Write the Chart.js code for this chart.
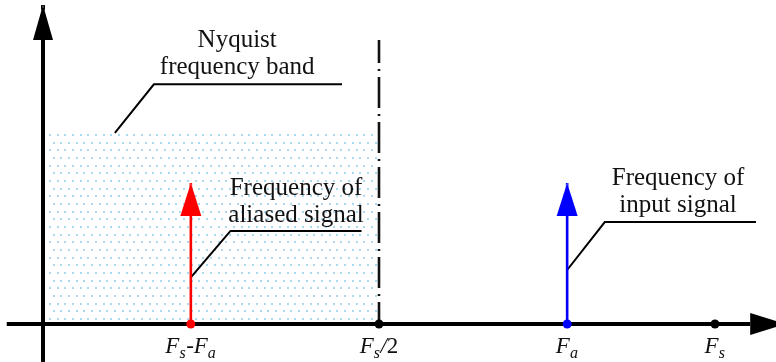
<!DOCTYPE html>
<html>
<head>
<meta charset="utf-8">
<script src="https://cdn.jsdelivr.net/npm/chart.js@4/dist/chart.umd.min.js"></script>
<style>
  html, body { margin: 0; padding: 0; background: #ffffff; }
  #wrap { width: 776px; height: 362px; }
</style>
</head>
<body>
<div id="wrap"><canvas id="spectrum" width="776" height="362"></canvas></div>
<script>
// Frequencies are normalised to the sampling rate Fs = 1.
const markerFreqs = [0.22, 0.5, 0.78, 1.0];
const tickLabels = ['F_s-F_a', 'F_s/2', 'F_a', 'F_s'];
const markerColors = ['#ff0000', '#000000', '#0000ff', '#000000'];

const aliasedFreq = 0.22;
const inputFreq = 0.78;
const nyquistFreq = 0.5;
const toneAmplitude = 1.0;
const bandHeight = 1.36;
const nyquistLineTop = 2.014;

// Axis extents (value units)
const xAxisSpan = [-0.054, 1.106];
const yAxisSpan = [-0.27, 2.262];

// Callout leader lines: [frequency, amplitude] vertices
const nyquistLeader = [[0.107, 1.355], [0.165, 1.70], [0.445, 1.70]];
const aliasedLeader = [[0.22, 0.33], [0.279, 0.66], [0.474, 0.66]];
const inputLeader = [[0.78, 0.383], [0.836, 0.723], [1.061, 0.723]];

// Callout texts
const nyquistText = ['Nyquist', 'frequency band'];
const aliasedText = ['Frequency of', 'aliased signal'];
const inputText = ['Frequency of', 'input signal'];

const toXY = pts => pts.map(p => ({ x: p[0], y: p[1] }));

const SERIF = "'Liberation Serif', 'DejaVu Serif', serif";

// Dotted fill used for the Nyquist band
function dotPattern() {
  const c = document.createElement('canvas');
  c.width = 46; c.height = 46;
  const g = c.getContext('2d');
  g.fillStyle = '#aad9f2';
  for (let r = 0; r < 6; r++) {
    for (let k = 0; k < 6; k++) {
      const y = Math.round(r * 7.667);
      const x = Math.round(k * 7.667 + (r % 2 ? 3.83 : 0));
      g.fillRect(x % 46, y, 2, 2);
    }
  }
  const ctx = document.getElementById('spectrum').getContext('2d');
  const p = ctx.createPattern(c, 'repeat');
  if (p.setTransform) p.setTransform(new DOMMatrix().translate(49, 134 % 46));
  return p;
}

// Arrowheads at the last vertex of datasets carrying an `arrowHead` option
function arrowGeom(meta, head) {
  const pts = meta.data;
  const a = pts[pts.length - 2], b = pts[pts.length - 1];
  const dx = b.x - a.x, dy = b.y - a.y;
  const len = Math.hypot(dx, dy) || 1;
  const ux = dx / len, uy = dy / len;
  const bx = b.x - ux * head.len, by = b.y - uy * head.len;
  const px = -uy * head.width / 2, py = ux * head.width / 2;
  return [[b.x, b.y], [bx + px, by + py], [bx - px, by - py]];
}
const arrowPlugin = {
  id: 'arrowHeads',
  beforeDatasetDraw(chart, args) {
    const ds = chart.data.datasets[args.index];
    if (!ds.arrowHead) return;
    const ctx = chart.ctx;
    const tri = arrowGeom(args.meta, ds.arrowHead);
    ctx.save();
    ctx.beginPath();
    ctx.rect(0, 0, chart.width, chart.height);
    ctx.moveTo(tri[0][0], tri[0][1]);
    ctx.lineTo(tri[1][0], tri[1][1]);
    ctx.lineTo(tri[2][0], tri[2][1]);
    ctx.closePath();
    ctx.clip('evenodd');
  },
  afterDatasetDraw(chart, args) {
    const ds = chart.data.datasets[args.index];
    if (!ds.arrowHead) return;
    const ctx = chart.ctx;
    ctx.restore();
    const tri = arrowGeom(args.meta, ds.arrowHead);
    ctx.save();
    ctx.fillStyle = ds.borderColor;
    ctx.beginPath();
    ctx.moveTo(tri[0][0], tri[0][1]);
    ctx.lineTo(tri[1][0], tri[1][1]);
    ctx.lineTo(tri[2][0], tri[2][1]);
    ctx.closePath();
    ctx.fill();
    ctx.restore();
  }
};

// Callout texts and frequency labels with subscripts
const textFont = '25px ' + SERIF;
const callouts = [
  { lines: nyquistText, x: 0.289, y: 1.965 },
  { lines: aliasedText, x: 0.3765, y: 0.915 },
  { lines: inputText, x: 0.945, y: 0.986 }
];
function drawMath(ctx, str, cx, baseline) {
  const parts = [];
  for (let i = 0; i < str.length; i++) {
    if (str[i] === '_') { parts.push({ t: str[i + 1], sub: true }); i++; }
    else parts.push({ t: str[i], sub: false });
  }
  const fontFor = p => p.sub
    ? 'italic 16px ' + SERIF
    : (/[0-9\-]/.test(p.t) ? '23px ' + SERIF : 'italic 23px ' + SERIF);
  let total = 0;
  parts.forEach(p => { ctx.font = fontFor(p); p.w = ctx.measureText(p.t).width + (p.sub ? 0.5 : 0); total += p.w; });
  let x = cx - total / 2;
  ctx.textAlign = 'left';
  parts.forEach(p => {
    ctx.font = fontFor(p);
    ctx.fillText(p.t, x, baseline + (p.sub ? 5 : 0));
    x += p.w;
  });
}
const textPlugin = {
  id: 'texts',
  afterDraw(chart) {
    const ctx = chart.ctx;
    const xs = chart.scales.x, ys = chart.scales.y;
    ctx.save();
    ctx.fillStyle = '#111111';
    ctx.textBaseline = 'alphabetic';
    callouts.forEach(c => {
      const px = xs.getPixelForValue(c.x), py = ys.getPixelForValue(c.y);
      c.lines.forEach((line, i) => {
        ctx.font = textFont;
        ctx.textAlign = 'center';
        ctx.fillText(line, px, py + i * 27.5);
      });
    });
    const base = ys.getPixelForValue(0) + 29;
    tickLabels.forEach((lbl, i) => drawMath(ctx, lbl, xs.getPixelForValue(markerFreqs[i]), base));
    ctx.restore();
  }
};

const lineDefaults = { pointRadius: 0, fill: false, tension: 0, borderCapStyle: 'butt' };

function build() {
  new Chart(document.getElementById('spectrum'), {
    type: 'line',
    data: {
      datasets: [
        // markers on the frequency axis
        { data: markerFreqs.map(f => ({ x: f, y: 0 })), showLine: false,
          pointRadius: 4.5, pointBackgroundColor: markerColors, pointBorderColor: markerColors, pointBorderWidth: 0 },
        // frequency axis
        { ...lineDefaults, data: [{ x: xAxisSpan[0], y: 0 }, { x: xAxisSpan[1], y: 0 }],
          borderColor: '#000000', borderWidth: 4, arrowHead: { len: 36, width: 22 } },
        // amplitude axis
        { ...lineDefaults, data: [{ x: 0, y: yAxisSpan[0] }, { x: 0, y: yAxisSpan[1] }],
          borderColor: '#000000', borderWidth: 4, arrowHead: { len: 35, width: 20 } },
        // aliased tone
        { ...lineDefaults, data: [{ x: aliasedFreq, y: 0 }, { x: aliasedFreq, y: toneAmplitude }],
          borderColor: '#ff0000', borderWidth: 2.6, arrowHead: { len: 33, width: 21 } },
        // input tone
        { ...lineDefaults, data: [{ x: inputFreq, y: 0 }, { x: inputFreq, y: toneAmplitude }],
          borderColor: '#0000ff', borderWidth: 2.6, arrowHead: { len: 33, width: 21 } },
        // leader lines
        { ...lineDefaults, data: toXY(nyquistLeader), borderColor: '#000000', borderWidth: 2 },
        { ...lineDefaults, data: toXY(aliasedLeader), borderColor: '#000000', borderWidth: 2 },
        { ...lineDefaults, data: toXY(inputLeader), borderColor: '#000000', borderWidth: 2 },
        // Fs/2 boundary
        { ...lineDefaults, data: [{ x: nyquistFreq, y: nyquistLineTop }, { x: nyquistFreq, y: 0 }],
          borderColor: '#111111', borderWidth: 2.6, borderDash: [31, 6, 2, 6], borderDashOffset: 8 },
        // Nyquist band shading
        { ...lineDefaults, data: [{ x: 0.006, y: bandHeight }, { x: nyquistFreq - 0.0015, y: bandHeight }],
          borderWidth: 0, borderColor: 'rgba(0,0,0,0)', backgroundColor: dotPattern(), fill: 'origin' }
      ]
    },
    options: {
      responsive: false,
      animation: false,
      events: [],
      layout: { padding: 0, autoPadding: false },
      scales: {
        x: { type: 'linear', display: false, min: -0.064, max: 1.0908 },
        y: { type: 'linear', display: false, min: -0.2695, max: 2.2979 }
      },
      plugins: { legend: { display: false }, tooltip: { enabled: false } }
    },
    plugins: [arrowPlugin, textPlugin]
  });
}

Promise.all([
  document.fonts.load('25px ' + SERIF, 'Frequency'),
  document.fonts.load('italic 23px ' + SERIF, 'F'),
  document.fonts.load('italic 16px ' + SERIF, 'sa')
]).catch(() => {}).then(build);
</script>
</body>
</html>
